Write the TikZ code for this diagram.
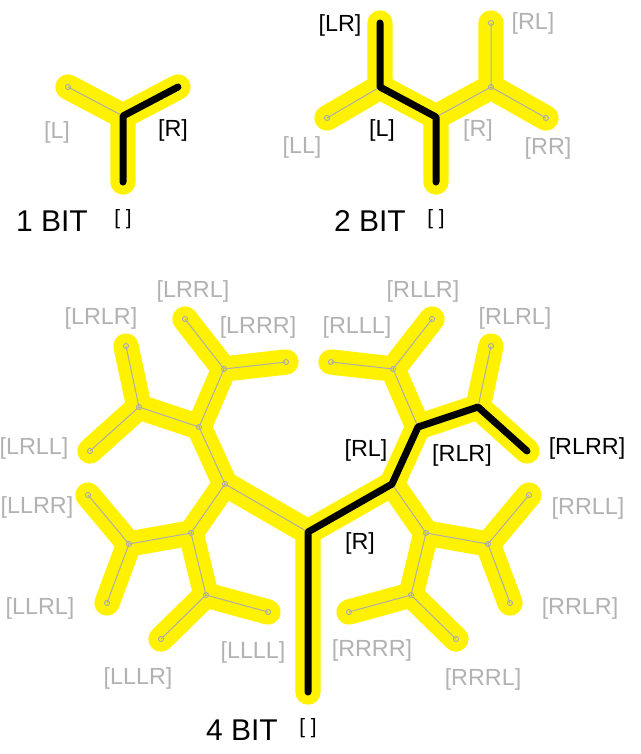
\documentclass[tikz,border=0pt]{standalone}
\usepackage{fontspec}
\setmainfont{Liberation Sans}
\tikzset{
  glow/.style={line width=19pt, color=yellow, line cap=round, line join=round},
  wire/.style={line width=0.75pt, color=black!32},
  hot/.style={line width=5.25pt, color=black, line cap=round, line join=round},
  lab/.style={font=\fontsize{17.5}{20}\selectfont, inner sep=0pt, text=black!30},
  onlab/.style={lab, text=black},
  title/.style={font=\fontsize{22.5}{26}\selectfont, inner sep=0pt},
  nil/.style={font=\fontsize{15.5}{18}\selectfont, inner sep=0pt},
}
\begin{document}
\begin{tikzpicture}[x=0.75pt, y=-0.75pt]
			%%%%% START %%%%%
			\fill[white] (0, 0) rectangle (640, 754);
			\useasboundingbox (0, 0) rectangle (640, 754);
			
			% 1 bit
			\coordinate (a0) at (123, 182);
			\coordinate (a) at (123, 116);
			\coordinate (aL) at (68, 87);
			\coordinate (aR) at (178, 87);
			
			% 2 bit
			\coordinate (b0) at (436, 182);
			\coordinate (b) at (436, 117);
			\coordinate (bL) at (380, 87);
			\coordinate (bR) at (491, 87);
			\coordinate (bLL) at (327, 118);
			\coordinate (bLR) at (380, 23);
			\coordinate (bRL) at (491, 23);
			\coordinate (bRR) at (546, 118);
			
			% 4 bit
			\coordinate (d0) at (308, 692);
			\coordinate (d) at (308, 532);
			\coordinate (dL) at (225, 484);
			\coordinate (dR) at (392, 484);
			\coordinate (dLL) at (191, 533);
			\coordinate (dLR) at (199, 427);
			\coordinate (dRL) at (418, 427);
			\coordinate (dRR) at (426, 533);
			\coordinate (dLLL) at (206, 595);
			\coordinate (dLLR) at (129, 544);
			\coordinate (dLRL) at (139, 407);
			\coordinate (dLRR) at (224, 369);
			\coordinate (dRLL) at (393, 369);
			\coordinate (dRLR) at (478, 407);
			\coordinate (dRRL) at (488, 544);
			\coordinate (dRRR) at (411, 595);
			\coordinate (dLLLL) at (268, 612);
			\coordinate (dLLLR) at (161, 639);
			\coordinate (dLLRL) at (107, 603);
			\coordinate (dLLRR) at (88, 495);
			\coordinate (dLRLL) at (90, 451);
			\coordinate (dLRLR) at (126, 346);
			\coordinate (dLRRL) at (185, 319);
			\coordinate (dLRRR) at (286, 362);
			\coordinate (dRLLL) at (331, 362);
			\coordinate (dRLLR) at (432, 319);
			\coordinate (dRLRL) at (491, 346);
			\coordinate (dRLRR) at (527, 451);
			\coordinate (dRRLL) at (529, 495);
			\coordinate (dRRLR) at (510, 603);
			\coordinate (dRRRL) at (456, 639);
			\coordinate (dRRRR) at (349, 612);
			
			% yellow under everything
			\draw[glow] (a0) -- (a) (a) -- (aL) (a) -- (aR);
			\draw[glow] (b0) -- (b) (b) -- (bL) (b) -- (bR)
				(bL) -- (bLL) (bL) -- (bLR) (bR) -- (bRL) (bR) -- (bRR);
			\draw[glow] (d0) -- (d) (d) -- (dL) (d) -- (dR)
				(dL) -- (dLL) (dL) -- (dLR) (dR) -- (dRL) (dR) -- (dRR)
				(dLL) -- (dLLL) (dLL) -- (dLLR) (dLR) -- (dLRL) (dLR) -- (dLRR)
				(dRL) -- (dRLL) (dRL) -- (dRLR) (dRR) -- (dRRL) (dRR) -- (dRRR)
				(dLLL) -- (dLLLL) (dLLL) -- (dLLLR) (dLLR) -- (dLLRL) (dLLR) -- (dLLRR)
				(dLRL) -- (dLRLL) (dLRL) -- (dLRLR) (dLRR) -- (dLRRL) (dLRR) -- (dLRRR)
				(dRLL) -- (dRLLL) (dRLL) -- (dRLLR) (dRLR) -- (dRLRL) (dRLR) -- (dRLRR)
				(dRRL) -- (dRRLL) (dRRL) -- (dRRLR) (dRRR) -- (dRRRL) (dRRR) -- (dRRRR);
			
			% thin grey skeleton
			\draw[wire] (a0) -- (a) (a) -- (aL) (a) -- (aR);
			\draw[wire] (b0) -- (b) (b) -- (bL) (b) -- (bR)
				(bL) -- (bLL) (bL) -- (bLR) (bR) -- (bRL) (bR) -- (bRR);
			\draw[wire] (d0) -- (d) (d) -- (dL) (d) -- (dR)
				(dL) -- (dLL) (dL) -- (dLR) (dR) -- (dRL) (dR) -- (dRR)
				(dLL) -- (dLLL) (dLL) -- (dLLR) (dLR) -- (dLRL) (dLR) -- (dLRR)
				(dRL) -- (dRLL) (dRL) -- (dRLR) (dRR) -- (dRRL) (dRR) -- (dRRR)
				(dLLL) -- (dLLLL) (dLLL) -- (dLLLR) (dLLR) -- (dLLRL) (dLLR) -- (dLLRR)
				(dLRL) -- (dLRLL) (dLRL) -- (dLRLR) (dLRR) -- (dLRRL) (dLRR) -- (dLRRR)
				(dRLL) -- (dRLLL) (dRLL) -- (dRLLR) (dRLR) -- (dRLRL) (dRLR) -- (dRLRR)
				(dRRL) -- (dRRLL) (dRRL) -- (dRRLR) (dRRR) -- (dRRRL) (dRRR) -- (dRRRR);
			
			\draw[wire] (aL) circle (1.9pt) (a) circle (1.9pt);
			\draw[wire] (bL) circle (1.9pt) (bR) circle (1.9pt) (bLL) circle (1.9pt)
				(bRL) circle (1.9pt) (bRR) circle (1.9pt);
			\draw[wire] (dL) circle (1.9pt) (dLL) circle (1.9pt) (dLR) circle (1.9pt)
				(dRR) circle (1.9pt) (dLLL) circle (1.9pt) (dLLR) circle (1.9pt)
				(dLRL) circle (1.9pt) (dLRR) circle (1.9pt) (dRLL) circle (1.9pt)
				(dRRL) circle (1.9pt) (dRRR) circle (1.9pt)
				(dLLLL) circle (1.9pt) (dLLLR) circle (1.9pt) (dLLRL) circle (1.9pt)
				(dLLRR) circle (1.9pt) (dLRLL) circle (1.9pt) (dLRLR) circle (1.9pt)
				(dLRRL) circle (1.9pt) (dLRRR) circle (1.9pt) (dRLLL) circle (1.9pt)
				(dRLLR) circle (1.9pt) (dRLRL) circle (1.9pt) (dRRLL) circle (1.9pt)
				(dRRLR) circle (1.9pt) (dRRRL) circle (1.9pt) (dRRRR) circle (1.9pt);
			
			% the chosen path
			\draw[hot] (a0) -- (a) -- (aR);
			\draw[hot] (b0) -- (b) -- (bL) -- (bLR);
			\draw[hot] (d0) -- (d) -- (dR) -- (dRL) -- (dRLR) -- (dRLRR);
			
			% labels
			\node[lab] (t-aL) at (57, 132) {[L]};
			\node[onlab] (t-aR) at (173, 130) {[R]};
			\node[title] (t-a) at (52, 221) {1 BIT};
			\node[nil] (n-a) at (123, 219) {[ ]};
			
			\node[onlab] (t-bLR) at (340, 25) {[LR]};
			\node[onlab] (t-bL) at (382, 130) {[L]};
			\node[lab] (t-bR) at (478, 130) {[R]};
			\node[lab] (t-bLL) at (302, 147) {[LL]};
			\node[lab] (t-bRR) at (548, 148) {[RR]};
			\node[lab] (t-bRL) at (533, 23) {[RL]};
			\node[title] (t-b) at (370, 221) {2 BIT};
			\node[nil] (n-b) at (436, 219) {[ ]};
			
			\node[onlab] (t-dR) at (360, 543) {[R]};
			\node[onlab] (t-dRL) at (366, 450) {[RL]};
			\node[onlab] (t-dRLR) at (462, 455) {[RLR]};
			\node[onlab] (t-dRLRR) at (587, 448) {[RLRR]};
			\node[lab] (t-dRLLR) at (423, 291) {[RLLR]};
			\node[lab] (t-dRLLL) at (357, 327) {[RLLL]};
			\node[lab] (t-dRLRL) at (515, 318) {[RLRL]};
			\node[lab] (t-dRRLL) at (588, 508) {[RRLL]};
			\node[lab] (t-dRRLR) at (580, 608) {[RRLR]};
			\node[lab] (t-dRRRL) at (483, 679) {[RRRL]};
			\node[lab] (t-dRRRR) at (372, 650) {[RRRR]};
			\node[lab] (t-dLRRL) at (193, 291) {[LRRL]};
			\node[lab] (t-dLRRR) at (258, 327) {[LRRR]};
			\node[lab] (t-dLRLR) at (101, 318) {[LRLR]};
			\node[lab] (t-dLRLL) at (34, 448) {[LRLL]};
			\node[lab] (t-dLLRR) at (37, 507) {[LLRR]};
			\node[lab] (t-dLLRL) at (40, 608) {[LLRL]};
			\node[lab] (t-dLLLR) at (138, 678) {[LLLR]};
			\node[lab] (t-dLLLL) at (253, 652) {[LLLL]};
			\node[title] (t-d) at (242, 730) {4 BIT};
			\node[nil] (n-d) at (308, 728) {[ ]};
			
			%%%%% END %%%%%
\end{tikzpicture}
\end{document}
